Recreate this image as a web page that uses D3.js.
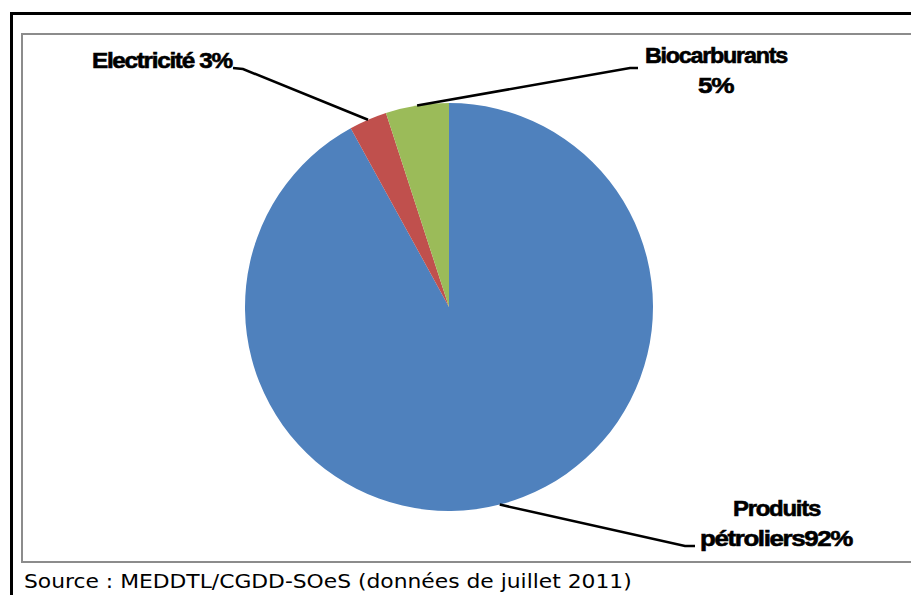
<!DOCTYPE html>
<html><head><meta charset="utf-8">
<script src="https://cdn.jsdelivr.net/npm/d3@7/dist/d3.min.js"></script>
<style>
html,body{margin:0;padding:0;background:#fff;}
svg{display:block;}
</style></head>
<body>
<svg id="chart" width="911" height="595"></svg>
<script>
const categories = ["Produits pétroliers", "Electricité", "Biocarburants"];
const values = [92, 3, 5];
const labelLines = [["Produits", "pétroliers92%"], ["Electricité 3%"], ["Biocarburants", "5%"]];
const colors = ["#4F81BD", "#C0504D", "#9BBB59"];
const sourceText = "Source : MEDDTL/CGDD-SOeS (données de juillet 2011)";

const svg = d3.select("#chart");

// outer black frame
svg.append("rect").attr("x", 11.5).attr("y", 13.5).attr("width", 1000).attr("height", 1000)
  .attr("fill", "none").attr("stroke", "#000").attr("stroke-width", 3);
// inner gray plot frame
svg.append("rect").attr("x", 22).attr("y", 34).attr("width", 1000).attr("height", 528)
  .attr("fill", "#fff").attr("stroke", "#8c8c8c").attr("stroke-width", 2);

const cx = 449, cy = 307, r = 204;
const pie = d3.pie().sort(null).value(d => d)(values);
const arc = d3.arc().innerRadius(0).outerRadius(r);
const g = svg.append("g").attr("transform", `translate(${cx},${cy})`);
g.selectAll("path").data(pie).join("path")
  .attr("d", arc).attr("fill", (d, i) => colors[i]);

// fit text horizontally to a target box [left, width]
function fitText(sel, left, width, y, anchorCenter) {
  const w = sel.node().getComputedTextLength();
  const s = width / w;
  const x0 = left;
  sel.attr("x", 0).attr("y", 0).attr("text-anchor", "start")
    .attr("transform", `translate(${x0},${y}) scale(${s},1)`);
}

// label layout (positions only): [left, width] per line
const layout = [
  {elbow: [685, 546], end: [695, 546], boxes: [[733, 87, 516], [700, 152, 546]]},
  {elbow: [243, 69], end: [233, 68], boxes: [[92, 140, 68]]},
  {elbow: [630, 68], end: [638, 68], boxes: [[645, 142, 63], [698, 35, 93]]}
];
const edge = d3.arc().innerRadius(r).outerRadius(r);
pie.forEach((d, i) => {
  const L = layout[i];
  const c = edge.centroid(d);
  const p = d3.path();
  p.moveTo(cx + c[0], cy + c[1]);
  p.lineTo(L.elbow[0], L.elbow[1]);
  p.lineTo(L.end[0], L.end[1]);
  svg.append("path").attr("d", p.toString()).attr("fill", "none")
    .attr("stroke", "#000").attr("stroke-width", 2.5);
  labelLines[i].forEach((t, j) => {
    const b = L.boxes[j];
    const txt = svg.append("text")
      .attr("font-family", "Liberation Sans, Arial, sans-serif")
      .attr("font-weight", "bold").attr("font-size", 22.5)
      .attr("letter-spacing", -1.2)
      .attr("fill", "#000").attr("stroke", "#000").attr("stroke-width", 0.6)
      .text(t);
    fitText(txt, b[0], b[1], b[2]);
  });
});

const src = svg.append("text")
  .attr("font-family", "DejaVu Sans, Verdana, sans-serif").attr("font-size", 20)
  .attr("fill", "#000").text(sourceText);
fitText(src, 24, 608, 588);
</script>
</body></html>
